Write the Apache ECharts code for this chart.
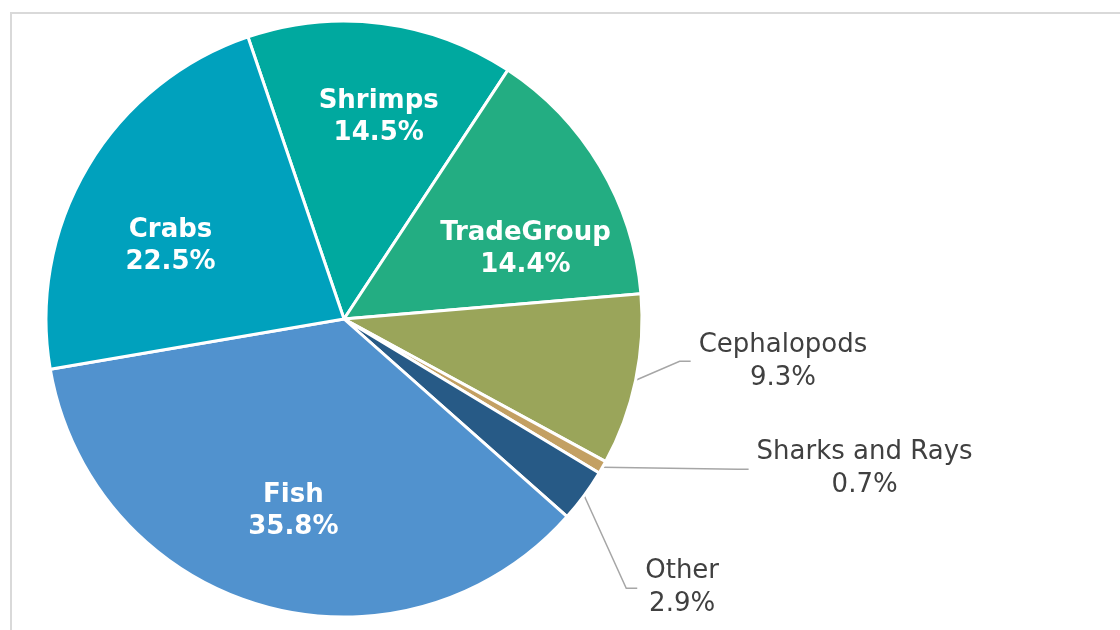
<!DOCTYPE html>
<html>
<head>
<meta charset="utf-8">
<script src="https://cdn.jsdelivr.net/npm/echarts@6/dist/echarts.min.js"></script>
<style>
  html, body { margin: 0; padding: 0; background: #fff; }
  #main { width: 1120px; height: 630px; }
</style>
</head>
<body>
<div id="main"></div>
<script>
var categories = ['Shrimps', 'TradeGroup', 'Cephalopods', 'Sharks and Rays', 'Other', 'Fish', 'Crabs'];
var shares = [14.5, 14.4, 9.3, 0.7, 2.9, 35.8, 22.5];
var colors = ['#00a99f', '#23ad82', '#9aa55a', '#c3a063', '#275a86', '#5192ce', '#00a1bd'];
var outsideNames = ['Cephalopods', 'Sharks and Rays', 'Other'];

// small shifts of the labels from where echarts puts them (px)
var labelNudge = {
	'Shrimps': [9, 0],
	'TradeGroup': [7, 34],
	'Crabs': [1, 31],
	'Fish': [5, -3],
	'Cephalopods': [22, -23],
	'Sharks and Rays': [102, -8],
	'Other': [21, 43]
};

var myChart = echarts.init(document.getElementById('main'));

function fmt(p) {
	return p.name + '\n' + p.value.toFixed(1) + '%';
}

function nudgeLabel(p) {
	var n = labelNudge[categories[p.dataIndex]] || [0, 0];
	return {
		x: p.labelRect.x + p.labelRect.width / 2 + n[0],
		y: p.labelRect.y + p.labelRect.height / 2 + n[1],
		align: 'center',
		verticalAlign: 'middle'
	};
}

var pieData = categories.map(function (name, i) {
	var out = outsideNames.indexOf(name) >= 0;
	return {
		name: name,
		value: shares[i],
		itemStyle: { color: colors[i] },
		label: { show: out },
		labelLine: { show: out }
	};
});

var labelData = categories.map(function (name, i) {
	return {
		name: name,
		value: shares[i],
		label: { show: outsideNames.indexOf(name) < 0 }
	};
});

option = {
	backgroundColor: '#fff',
	animation: false,
	graphic: [{
		type: 'rect',
		shape: { x: 11, y: 13, width: 1200, height: 700 },
		style: { fill: 'none', stroke: '#d9d9d9', lineWidth: 2 },
		silent: true
	}],
	series: [{
		type: 'pie',
		center: [344, 319],
		radius: 298,
		startAngle: 108.8,
		clockwise: true,
		data: pieData,
		itemStyle: { borderColor: '#fff', borderWidth: 3 },
		label: {
			position: 'outside',
			formatter: fmt,
			fontFamily: 'DejaVu Sans',
			fontSize: 26,
			lineHeight: 33,
			padding: [0, 8],
			color: '#404040'
		},
		labelLine: {
			length: 20,
			length2: 11,
			lineStyle: { color: '#a6a6a6', width: 1.5 }
		},
		labelLayout: nudgeLabel,
		emphasis: { disabled: true }
	}, {
		type: 'pie',
		center: [344, 319],
		radius: [102, 298],
		startAngle: 108.8,
		clockwise: true,
		silent: true,
		data: labelData,
		itemStyle: { color: 'rgba(0,0,0,0)' },
		label: {
			position: 'inside',
			formatter: fmt,
			fontFamily: 'DejaVu Sans',
			fontWeight: 'bold',
			fontSize: 26,
			lineHeight: 32,
			color: '#fff'
		},
		labelLine: { show: false },
		labelLayout: nudgeLabel
	}]
};

myChart.clear();
myChart.setOption(option);
</script>
</body>
</html>
